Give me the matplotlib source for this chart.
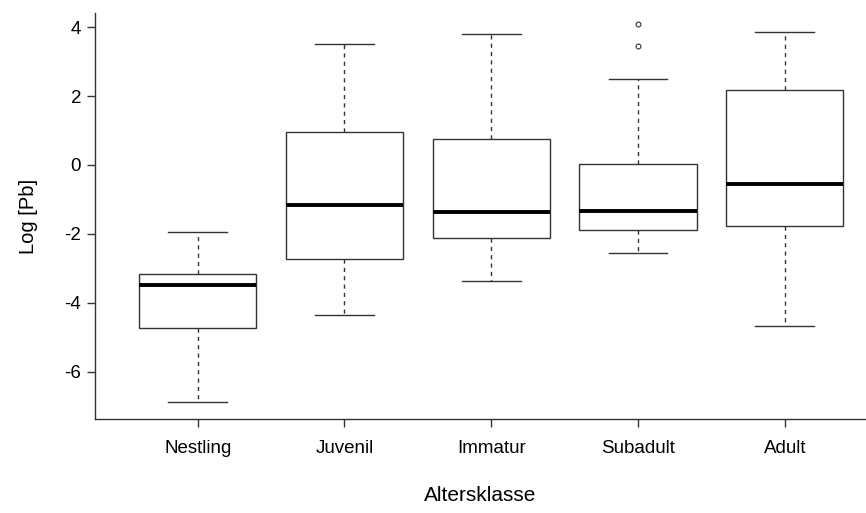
import matplotlib
matplotlib.use("Agg")
import matplotlib.pyplot as plt

plt.rcParams['font.family'] = ['Liberation Sans', 'DejaVu Sans']

# Five-number summaries per age class (log Pb)
categories = ["Nestling", "Juvenil", "Immatur", "Subadult", "Adult"]
whisker_low = [-6.89, -4.35, -3.36, -2.55, -4.66]
quart_low = [-4.74, -2.72, -2.11, -1.88, -1.76]
medians = [-3.47, -1.15, -1.36, -1.33, -0.54]
quart_high = [-3.15, 0.97, 0.75, 0.04, 2.17]
whisker_high = [-1.94, 3.50, 3.79, 2.50, 3.87]
outliers = [[], [], [], [4.08, 3.46], []]

stats = []
for i, name in enumerate(categories):
    stats.append({
        "label": name,
        "whislo": whisker_low[i],
        "q1": quart_low[i],
        "med": medians[i],
        "q3": quart_high[i],
        "whishi": whisker_high[i],
        "fliers": outliers[i],
    })

fig = plt.figure(figsize=(8.66, 5.13), dpi=100)
ax = fig.add_axes([95 / 866, 94 / 513, 1 - 95 / 866, 405.7 / 513])

edge = "#333333"
ax.bxp(
    stats,
    positions=range(1, len(categories) + 1),
    widths=0.8,
    capwidths=0.4,
    patch_artist=True,
    boxprops=dict(facecolor="white", edgecolor=edge, linewidth=1.0),
    medianprops=dict(color="black", linewidth=2.8, solid_capstyle="butt"),
    whiskerprops=dict(color=edge, linewidth=1.0, linestyle=(0, (3, 3))),
    capprops=dict(color=edge, linewidth=1.0),
    flierprops=dict(marker="o", markersize=3.5, markerfacecolor="none",
                    markeredgecolor=edge, markeredgewidth=0.8, linestyle="none"),
)

ax.set_xlim(0.3, 1 + (866 - 198) / 146.7)
ax.set_ylim(-7.37, 4.40)
ax.set_yticks([-6, -4, -2, 0, 2, 4])
ax.set_yticklabels(["-6", "-4", "-2", "0", "2", "4"])
ax.set_xticks(range(1, len(categories) + 1))
ax.set_xticklabels(categories)

for side in ("top", "right"):
    ax.spines[side].set_visible(False)
for side in ("left", "bottom"):
    ax.spines[side].set_color(edge)
    ax.spines[side].set_linewidth(1.0)

ax.tick_params(axis="both", length=6, width=1.0, color=edge, labelsize=13.5)
ax.tick_params(axis="x", pad=9)
ax.tick_params(axis="y", pad=4)

ax.set_ylabel("Log [Pb]", fontsize=14.5, labelpad=19)
ax.set_xlabel("Altersklasse", fontsize=15, labelpad=21)

fig.savefig("out.png", dpi=100)
